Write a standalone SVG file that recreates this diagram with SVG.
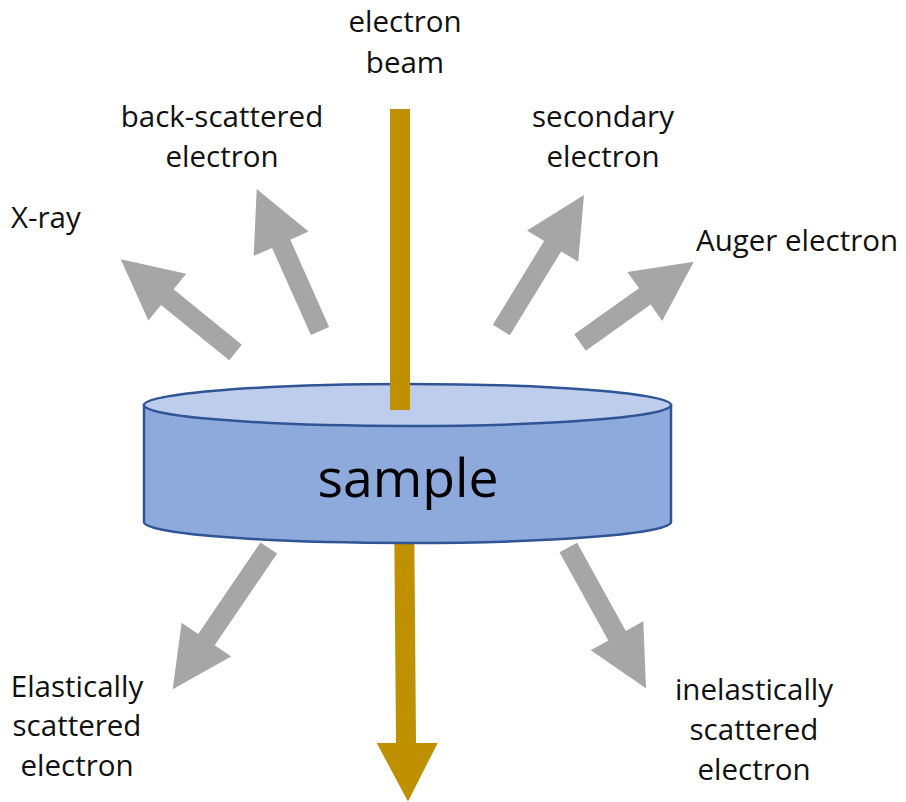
<svg xmlns="http://www.w3.org/2000/svg" width="906" height="802" viewBox="0 0 906 802">
<style>
.lbl{font-family:"Open Sans","Liberation Sans",sans-serif;font-size:29.5px;fill:#111;text-anchor:middle}
.big{font-family:"Open Sans","Liberation Sans",sans-serif;font-size:53.5px;fill:#000;text-anchor:middle}
.em{fill:#A6A6A6}
.beam{fill:#BF9000}
</style>
<rect width="906" height="802" fill="#fff"/>
<g id="connectors">
<polygon class="em" points="241.8,344.7 173.6,289.35 186.2,273.8 120.7,259.3 148.4,320.4 161.0,304.9 229.2,360.3"/>
<polygon class="em" points="329.1,326.9 290.3,239.7 308.5,231.6 256.7,189 253.7,256.0 272.0,247.9 310.9,335.1"/>
<polygon class="em" points="509.8,335.2 561.2,251.4 578.2,261.8 584,195 527.1,230.5 544.1,240.9 492.8,324.8"/>
<polygon class="em" points="585.8,350.7 650.6,304.6 662.2,320.9 693.7,261.7 627.4,272.0 639.0,288.3 574.2,334.3"/>
<polygon class="em" points="260.5,542.4 198.2,634.1 181.6,622.8 172.7,689.3 231.2,656.6 214.7,645.3 277.1,553.6"/>
<polygon class="em" points="559.5,552.3 608.3,640.6 590.7,650.3 646,688.3 643.3,621.3 625.8,631.0 577.1,542.7"/>
<polygon class="beam" points="394.3,536 414.3,536 416,743 437.7,743 408,801.5 376.7,743 396,743"/>
</g>
<g id="sample">
<path d="M144,405 L144,522 A263.5,21 0 0 0 671,522 L671,405 Z" fill="#8EA9DB" stroke="#2F5597" stroke-width="2.5"/>
<ellipse cx="407.5" cy="405" rx="263.5" ry="21" fill="#BDCDEB" stroke="#2F5597" stroke-width="2.5"/>
<text class="big" x="408" y="497">sample</text>
</g>
<g id="electron-beam">
<rect class="beam" x="390" y="109" width="20" height="301"/>
<text class="lbl" x="405" y="32">electron</text>
<text class="lbl" x="405" y="73">beam</text>
</g>
<g id="backscattered">
<text class="lbl" x="222" y="127">back-scattered</text>
<text class="lbl" x="222" y="167">electron</text>
</g>
<g id="secondary">
<text class="lbl" x="603" y="127">secondary</text>
<text class="lbl" x="603" y="167">electron</text>
</g>
<g id="xray">
<text class="lbl" x="11" y="228" style="text-anchor:start">X-ray</text>
</g>
<g id="auger">
<text class="lbl" x="696" y="251" style="text-anchor:start">Auger electron</text>
</g>
<g id="elastic">
<text class="lbl" x="77" y="697">Elastically</text>
<text class="lbl" x="77" y="736">scattered</text>
<text class="lbl" x="77" y="776">electron</text>
</g>
<g id="inelastic">
<text class="lbl" x="754" y="700">inelastically</text>
<text class="lbl" x="754" y="740">scattered</text>
<text class="lbl" x="754" y="780">electron</text>
</g>
</svg>
